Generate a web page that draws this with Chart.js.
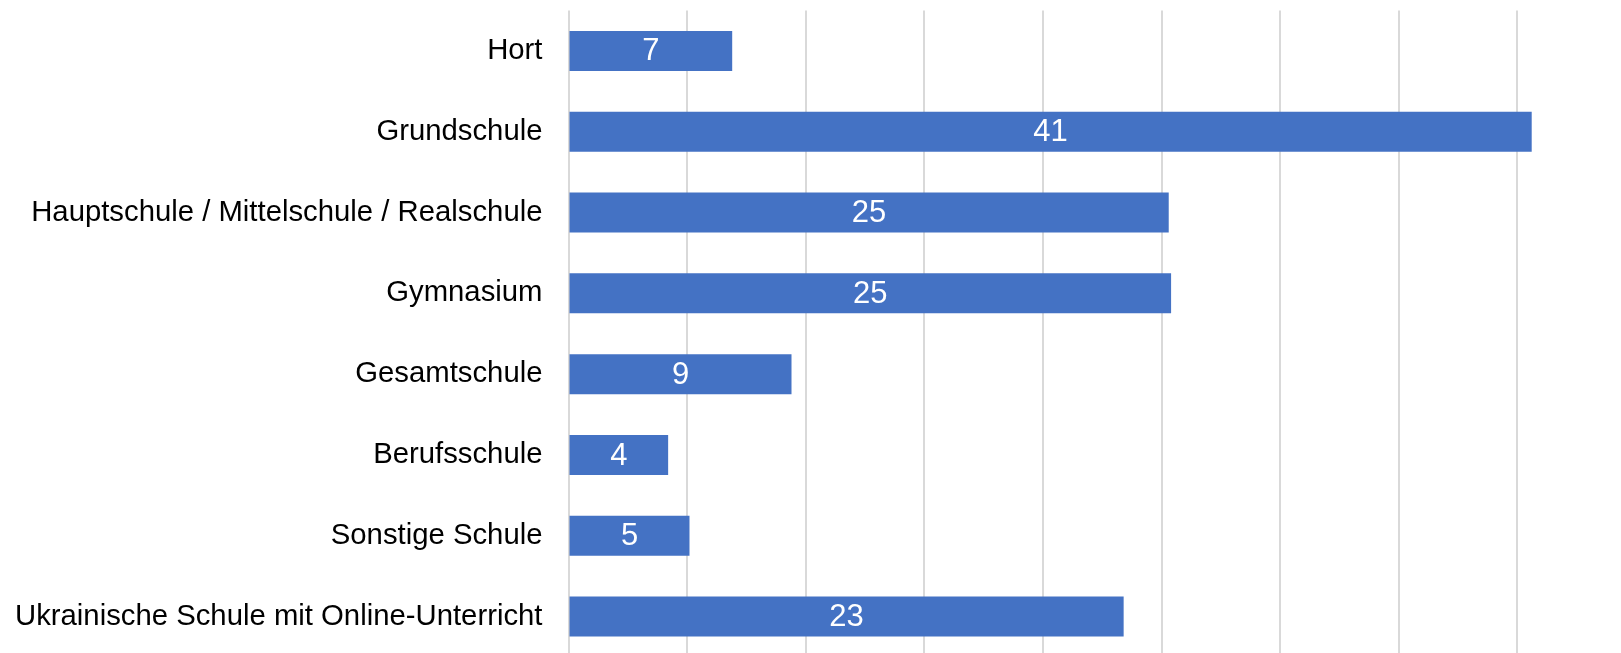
<!DOCTYPE html>
<html>
<head>
<meta charset="utf-8">
<script src="https://cdn.jsdelivr.net/npm/chart.js@4"></script>
<style>
    html, body { margin: 0; padding: 0; background: #ffffff; overflow: hidden; }
    #wrap { position: relative; width: 1621px; height: 657px; }
</style>
</head>
<body>
<div id="wrap"><canvas id="schoolChart"></canvas></div>
<script>
// --- Data ---
const categories = [
    'Hort',
    'Grundschule',
    'Hauptschule / Mittelschule / Realschule',
    'Gymnasium',
    'Gesamtschule',
    'Berufsschule',
    'Sonstige Schule',
    'Ukrainische Schule mit Online-Unterricht'
];
const values = [6.9, 40.6, 25.3, 25.4, 9.4, 4.2, 5.1, 23.4];

const FONT = '"Liberation Sans", Arial, sans-serif';

// --- Plugin: value labels in the middle of each bar ---
const barLabels = {
    id: 'barLabels',
    afterDatasetsDraw(chart) {
        const ctx = chart.ctx;
        const meta = chart.getDatasetMeta(0);
        ctx.save();
        ctx.fillStyle = '#ffffff';
        ctx.font = '31px ' + FONT;
        ctx.textAlign = 'center';
        ctx.textBaseline = 'middle';
        meta.data.forEach((bar, i) => {
            const cx = (bar.x + bar.base) / 2;
            ctx.fillText(String(Math.round(values[i])), cx, bar.y + 1);
        });
        ctx.restore();
    }
};

new Chart(document.getElementById('schoolChart'), {
    type: 'bar',
    data: {
        labels: categories,
        datasets: [{
            data: values,
            backgroundColor: '#4472C4',
            borderWidth: 0,
            categoryPercentage: 1,
            barPercentage: 0.495
        }]
    },
    options: {
        indexAxis: 'y',
        responsive: true,
        maintainAspectRatio: false,
        animation: false,
        layout: { padding: { top: 10.5, right: 20.5, left: 0, bottom: 0 } },
        plugins: {
            legend: { display: false },
            tooltip: { enabled: false }
        },
        scales: {
            x: {
                min: 0,
                max: 43.5,
                ticks: { display: false, stepSize: 5 },
                border: { display: false },
                grid: {
                    drawTicks: false,
                    lineWidth: 2,
                    color: (c) => (c.tick && c.tick.value % 5 === 0) ? '#d9d9d9' : 'rgba(0,0,0,0)'
                },
                afterFit(scale) { scale.height = 0; scale.paddingLeft = 0; scale.paddingRight = 0; }
            },
            y: {
                afterFit(scale) {
                    scale.width = 568.5;
                    scale.paddingTop = 0;
                    scale.paddingBottom = 0;
                },
                grid: { display: false, drawTicks: false },
                border: { display: false },
                ticks: {
                    color: '#000000',
                    padding: 26,
                    font: { family: FONT, size: 29.3 }
                }
            }
        }
    },
    plugins: [barLabels]
});
</script>
</body>
</html>
